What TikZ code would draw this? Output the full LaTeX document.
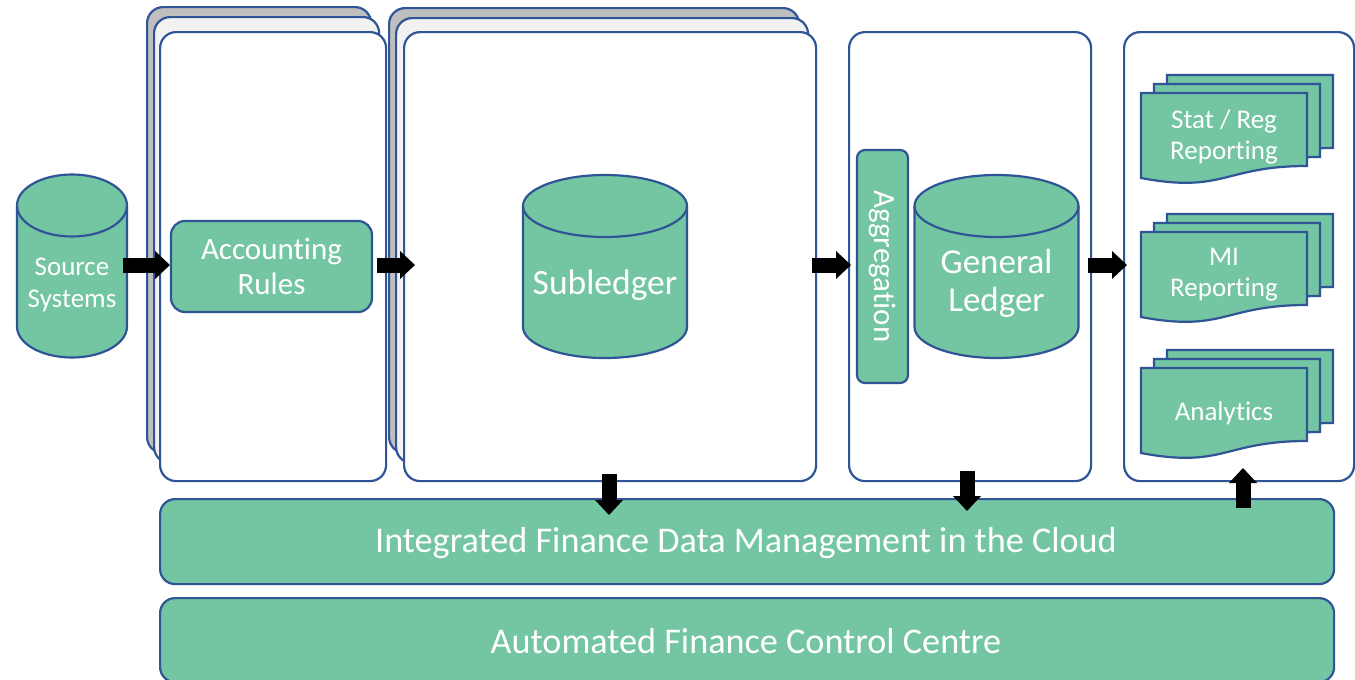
\documentclass[tikz,border=0pt]{standalone}
\usepackage{fontspec}
\setmainfont{Carlito}[Ligatures={NoCommon}]
\usetikzlibrary{arrows.meta}
\definecolor{gr}{HTML}{73C6A1}
\definecolor{bl}{HTML}{2F5597}
\definecolor{gA}{HTML}{BFBFBF}
\definecolor{gB}{HTML}{F2F2F2}
\tikzset{
 panelbox/.style={draw=bl, line width=2.2pt, rounded corners=16pt, anchor=north west, inner sep=0pt},
 gbox/.style={draw=bl, fill=gr, line width=2.2pt, text=white, inner sep=0pt, align=center},
 lbl/.style={text=white, inner sep=0pt, align=center},
 cylst/.style={draw=bl, fill=gr, line width=2.2pt},
 docst/.style={draw=bl, fill=gr, line width=2.2pt, line join=miter},
 barrow/.style={line width=15pt, draw=black, -{Triangle[length=15pt 0 0,width=28pt 0 0,line width=0pt 0 0]}},
}
\newcommand\docsh[2]{\draw[docst, shift={(#1,#2)}] (0,0) -- (166,0) -- (166,73) .. controls (83,73) and (83,100.7) .. (0,85) -- cycle;}
\newcommand\cylsh[4]{% cx, top-ellipse centre y, bottom-ellipse centre y, rx
 \draw[cylst] (#1-#4,#2) -- (#1-#4,#3) arc[start angle=180,end angle=360,x radius=#4pt,y radius=31pt] -- (#1+#4,#2) arc[start angle=0,end angle=180,x radius=#4pt,y radius=31pt] -- cycle;
 \draw[bl, line width=2.2pt] (#1-#4,#2) arc[start angle=180,end angle=360,x radius=#4pt,y radius=31pt];}
\begin{document}
\begin{tikzpicture}[x=1pt,y=-1pt]
\useasboundingbox (0,0) rectangle (1355,680);
\clip (0,0) rectangle (1355,680);
% panels
\node[panelbox, fill=gA, minimum width=224pt, minimum height=446pt] (p1c) at (146,6) {};
\node[panelbox, fill=gB, minimum width=225pt, minimum height=446pt] (p1b) at (153,16) {};
\node[panelbox, fill=white, minimum width=226pt, minimum height=449pt] (p1a) at (159,31) {};
\node[panelbox, fill=gA, minimum width=410pt, minimum height=445pt] (p2c) at (388,7) {};
\node[panelbox, fill=gB, minimum width=412pt, minimum height=445pt] (p2b) at (395,17) {};
\node[panelbox, fill=white, minimum width=412pt, minimum height=449pt] (p2a) at (403,31) {};
\node[panelbox, fill=white, minimum width=242pt, minimum height=449pt] (p3) at (848,31) {};
\node[panelbox, fill=white, minimum width=230pt, minimum height=449pt] (p4) at (1123,31) {};
% bars
\node[gbox, rounded corners=15pt, anchor=north west, minimum width=1174pt, minimum height=85pt] (ifdm) at (159,498) {};
\node[lbl, font=\fontsize{36.2}{42}\selectfont] (ifdmt) at (746,543) {Integrated Finance Data Management in the Cloud};
\node[gbox, rounded corners=15pt, anchor=north west, minimum width=1174pt, minimum height=84pt] (afcc) at (159,597) {};
\node[lbl, font=\fontsize{36.2}{42}\selectfont] (afcct) at (746,641) {Automated Finance Control Centre};
% source systems
\cylsh{72}{205.5}{326.5}{55}
\node[lbl, font=\fontsize{27}{32}\selectfont] (src) at (72,285) {Source\\Systems};
% accounting rules
\node[gbox, rounded corners=14pt, minimum width=201pt, minimum height=91pt, font=\fontsize{31}{35}\selectfont] (acc) at (271.5,266.5) {Accounting\\Rules};
% subledger
\cylsh{605}{206}{327}{82}
\node[lbl, font=\fontsize{35.5}{42}\selectfont] (sub) at (605,285) {Subledger};
% aggregation
\node[gbox, rotate=-90, rounded corners=8pt, minimum width=233pt, minimum height=51pt, font=\fontsize{31}{36}\selectfont] (agg) at (882.5,266.5) {Aggregation};
% general ledger
\cylsh{996.5}{206}{327}{82}
\node[lbl, font=\fontsize{35}{38}\selectfont] (gl) at (996.5,283) {General\\Ledger};
% documents
\docsh{1167}{75}\docsh{1154}{84}\docsh{1141}{93}
\node[lbl, font=\fontsize{27}{31}\selectfont] (stat) at (1224,137) {Stat / Reg\\Reporting};
\docsh{1167}{214}\docsh{1154}{223}\docsh{1141}{232}
\node[lbl, font=\fontsize{27}{31}\selectfont] (mi) at (1224,275) {MI\\Reporting};
\docsh{1167}{350}\docsh{1154}{359}\docsh{1141}{368}
\node[lbl, font=\fontsize{27}{31}\selectfont] (ana) at (1224,413) {Analytics};
% arrows
\coordinate (a1s) at (123,265); \coordinate (a1e) at (170,265);
\coordinate (a2s) at (377,265); \coordinate (a2e) at (415,265);
\coordinate (a3s) at (812,265); \coordinate (a3e) at (851,265);
\coordinate (a4s) at (1088,265); \coordinate (a4e) at (1127,265);
\coordinate (d1s) at (609,474); \coordinate (d1e) at (609,515);
\coordinate (d2s) at (967,471); \coordinate (d2e) at (967,511);
\coordinate (u1s) at (1243,508); \coordinate (u1e) at (1243,468);
\draw[barrow] (a1s) -- (a1e);
\draw[barrow] (a2s) -- (a2e);
\draw[barrow] (a3s) -- (a3e);
\draw[barrow] (a4s) -- (a4e);
\draw[barrow] (d1s) -- (d1e);
\draw[barrow] (d2s) -- (d2e);
\draw[barrow] (u1s) -- (u1e);
\end{tikzpicture}
\end{document}
